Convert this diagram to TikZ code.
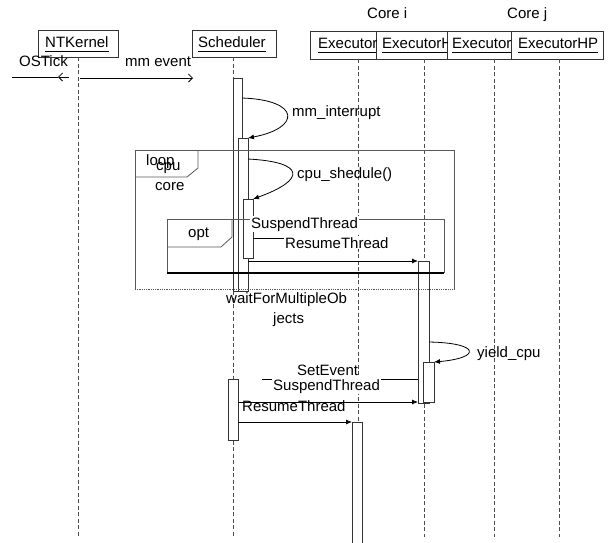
\documentclass[tikz,border=0pt]{standalone}
\usepackage{fontspec}
\setmainfont{Liberation Sans}
\usetikzlibrary{arrows.meta}
\begin{document}
\begin{tikzpicture}[x=1pt,y=-1pt,
  font=\fontsize{15}{17}\selectfont,
  headbox/.style={draw=black!80, line width=0.8pt, fill=white, inner sep=0pt, outer sep=0pt},
  life/.style={draw=black!70, line width=0.8pt, dash pattern=on 4pt off 2.5pt},
  act/.style={draw=black!80, line width=0.8pt, fill=white, inner sep=0pt, outer sep=0pt},
  frame/.style={draw=black!65, line width=0.8pt},
  msg/.style={draw=black, line width=0.8pt},
  call/.style={msg, -{Latex[length=6pt,width=5pt]}},
  opencall/.style={msg, -{Straight Barb[length=4pt,width=8pt]}},
  lbl/.style={anchor=base west, inner sep=0pt},
  cover/.style={anchor=base west, inner sep=1pt, fill=white},
  uline/.style={draw=black, line width=0.8pt}
]
\useasboundingbox (0,0) rectangle (610,542);

% ---- participants ----
\node[headbox, minimum width=80pt, minimum height=27pt] (nt) at (78,43.5) {};
\node[headbox, minimum width=84pt, minimum height=27pt] (sch) at (234,43.5) {};
\node[headbox, minimum width=66pt, minimum height=28pt] (e1) at (343,45) {};
\node[headbox, minimum width=71pt, minimum height=28pt] (e2) at (411.5,45) {};
\node[headbox, minimum width=64pt, minimum height=28pt] (e3) at (479,45) {};
\node[headbox, minimum width=92pt, minimum height=28pt] (e4) at (557,45) {};

\node[lbl] (tnt) at (45,47) {NTKernel};
\draw[uline] ([yshift=-4.5pt]tnt.base west) -- ([yshift=-4.5pt]tnt.base east);
\node[lbl] (tsch) at (198,47) {Scheduler};
\draw[uline] ([yshift=-4.5pt]tsch.base west) -- ([yshift=-4.5pt]tsch.base east);

\begin{scope}
  \clip (e1.south west) rectangle (e1.north east);
  \node[lbl] (te1) at (318,48) {Executor};
  \draw[uline] ([yshift=-4.5pt]te1.base west) -- ([yshift=-4.5pt]te1.base east);
\end{scope}
\begin{scope}
  \clip (e2.south west) rectangle (e2.north east);
  \node[lbl] (te2) at (382,48) {ExecutorHP};
  \draw[uline] ([yshift=-4.5pt]te2.base west) -- ([yshift=-4.5pt]te2.base east);
\end{scope}
\begin{scope}
  \clip (e3.south west) rectangle (e3.north east);
  \node[lbl] (te3) at (452,48) {Executor};
  \draw[uline] ([yshift=-4.5pt]te3.base west) -- ([yshift=-4.5pt]te3.base east);
\end{scope}
\begin{scope}
  \clip (e4.south west) rectangle (e4.north east);
  \node[lbl] (te4) at (518,48) {ExecutorHP};
  \draw[uline] ([yshift=-4.5pt]te4.base west) -- ([yshift=-4.5pt]te4.base east);
\end{scope}

\node[lbl] (corei) at (367,18) {Core i};
\node[lbl] (corej) at (507,18) {Core j};

% ---- lifelines ----
\coordinate (ntEnd) at (78,537);
\coordinate (schEnd) at (233,537);
\coordinate (e1End) at (358,422);
\coordinate (e2End) at (424,537);
\coordinate (e3End) at (494,537);
\coordinate (e4End) at (559,537);
\draw[life] (nt.south) -- (ntEnd);
\draw[life] (sch.south -| schEnd) -- (schEnd);
\draw[life] (e1.south -| e1End) -- (e1End);
\draw[life] (e2.south -| e2End) -- (e2End);
\draw[life] (e3.south -| e3End) -- (e3End);
\draw[life] (e4.south -| e4End) -- (e4End);

% ---- activation bars ----
\node[act, minimum width=9pt,  minimum height=213pt] (a1) at (237.5,184.5) {};
\node[act, minimum width=10pt, minimum height=153pt] (a2) at (243,214.5) {};
\node[act, minimum width=10pt, minimum height=59pt]  (a3) at (248,228.5) {};
\node[act, minimum width=11pt, minimum height=142pt] (a4) at (423.5,332) {};
\node[act, minimum width=11pt, minimum height=40pt]  (a5) at (428.5,382) {};
\node[act, minimum width=10pt, minimum height=61pt]  (a6) at (233,409.5) {};
\node[act, minimum width=10pt, minimum height=130pt] (a7) at (357,487) {};

% ---- combined fragments ----
% loop
\draw[frame] (135,289) -- (135,150) -- (454,150) -- (454,289);
\draw[frame, densely dotted] (135,289) -- (454,289);
\draw[frame] (135,177) -- (187,177) -- (198,168) -- (198,150);
% opt
\draw[frame] (167,273) -- (167,219) -- (444,219) -- (444,273);
\draw[line width=2pt] (167,273) -- (444,273);
\draw[frame] (167,247) -- (221,247) -- (232,237) -- (232,219);

\node[lbl] (tloop) at (146,165) {loop};
\node[lbl] (tcpu) at (156,170) {cpu};
\node[lbl] (tcore) at (155,190) {core};
\node[lbl] (topt) at (188,237) {opt};

% ---- messages ----
\coordinate (osA) at (69,77);
\coordinate (osTip) at (58,77);
\coordinate (osB) at (12,77);
\draw[opencall] (osA) -- (osTip);
\draw[msg] (osTip) -- (osB);
\node[lbl] (tos) at (19,66.5) {OSTick};

\coordinate (mmA) at (80,78);
\coordinate (mmB) at (193,78);
\draw[opencall] (mmA) -- (mmB);
\node[lbl] (tmm) at (125,66.5) {mm event};

\draw[call] (a1.east |- 0,98) .. controls (301,100) and (301,128) .. (a2.north east);
\node[lbl] (tmmi) at (292,116) {mm\_interrupt};

\draw[call] (a2.east |- 0,159) .. controls (306,162) and (306,180) .. (a3.north east);
\node[lbl] (tcs) at (297,178) {cpu\_shedule()};

\node[cover] (tsus1) at (250,228) {SuspendThread};
\coordinate (rtEnd) at (320,238);
\draw[msg] (a3.east |- rtEnd) -- (rtEnd);
\node[cover] (tres1) at (284,248) {ResumeThread};

\draw[call] (a2.east |- a4.north west) -- (a4.north west);
\node[lbl] (twait1) at (226,303) {waitForMultipleOb};
\node[lbl] (twait2) at (273,323) {jects};

\draw[call] (a4.east |- 0,342) .. controls (481,343) and (481,358) .. (a5.north east);
\node[lbl] (tyield) at (477,357) {yield\_cpu};

\node[lbl] (tset) at (297,375) {SetEvent};
\coordinate (susFree) at (262,379);
\draw[msg] (a4.west |- susFree) -- (susFree);
\node[cover] (tsus2) at (272,390) {SuspendThread};

\draw[call] (a6.east |- 0,402) -- (a4.west |- 0,402);
\node[lbl] (tres2) at (242,411) {ResumeThread};

\draw[call] (a6.east |- a7.north west) -- (a7.north west);
\end{tikzpicture}
\end{document}
